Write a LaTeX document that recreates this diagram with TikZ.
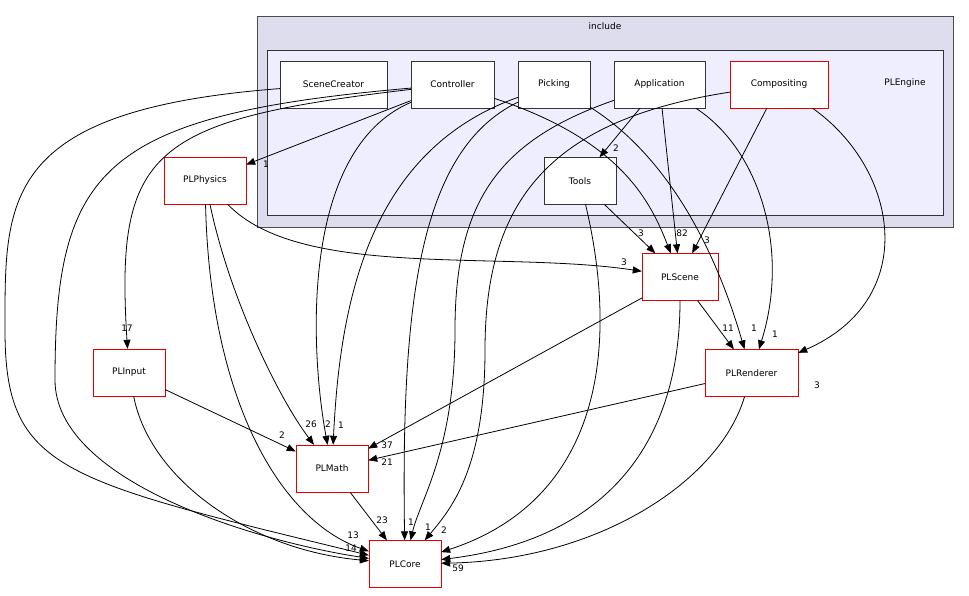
\documentclass[tikz,border=0pt]{standalone}
\usepackage{fontspec}
\setmainfont{DejaVu Sans}
\usetikzlibrary{positioning, arrows.meta}
\definecolor{clout}{HTML}{DDDDEE}
\definecolor{clin}{HTML}{EEEEFF}
\tikzset{
  dir/.style={draw=black!80, fill=white, minimum height=47pt, inner sep=0pt, font=\fontsize{9}{10}\selectfont},
  red/.style={dir, draw=red!90!black},
  dep/.style={-{Triangle[length=9pt,width=7pt]}, draw=black, thick},
  num/.style={font=\fontsize{9}{10}\selectfont, inner sep=0pt}
}
\begin{document}
\begin{tikzpicture}[x=1pt,y=-1pt]
  \useasboundingbox (0,0) rectangle (969,595);
  % clusters
  \draw[fill=clout, draw=black!70, thick] (257,16) rectangle (953,227);
  \node[num] (inc) at (605,26) {include};
  \draw[fill=clin, draw=black!80, thick] (267,50) rectangle (943,215);
  \node[num] (eng) at (905,83) {PLEngine};

  % directories
  \node[dir, minimum width=107pt] (scene) at (333.5,84.5) {SceneCreator};
  \node[dir, minimum width=83pt]  (ctrl)  at (452.5,84.5) {Controller};
  \node[dir, minimum width=72pt]  (pick)  at (554,84.5)   {Picking};
  \node[dir, minimum width=91pt]  (app)   at (659.5,84.5) {Application};
  \node[red, minimum width=98pt]  (comp)  at (779,84.5)   {Compositing};
  \node[dir, minimum width=72pt]  (tools) at (580,181)    {Tools};
  \node[red, minimum width=82pt]  (phys)  at (205,180.5)  {PLPhysics};
  \node[red, minimum width=76pt]  (plscene) at (680,277)  {PLScene};
  \node[red, minimum width=72pt]  (input) at (129,372.5)  {PLInput};
  \node[red, minimum width=93pt]  (rend)  at (751.5,373)  {PLRenderer};
  \node[red, minimum width=72pt]  (math)  at (332,468.5)  {PLMath};
  \node[red, minimum width=72pt]  (core)  at (405,564)    {PLCore};

  % dependencies
  \draw[dep] (scene) .. controls (0,110) and (5,200) .. (5,330) .. controls (5,470) and (60,480) .. (core);
  \draw[dep] (ctrl) .. controls (100,115) and (55,170) .. (55,380) .. controls (55,480) and (250,540) .. (core);
  \draw[dep] (ctrl) .. controls (150,120) and (115,150) .. (input);
  \draw[dep] (ctrl) -- (phys);
  \draw[dep] (ctrl) .. controls (300,150) and (310,350) .. (math);
  \draw[dep] (ctrl) .. controls (620,140) and (650,200) .. (plscene);
  \draw[dep] (pick) .. controls (370,150) and (340,300) .. (math);
  \draw[dep] (pick) .. controls (420,150) and (401,300) .. (core);
  \draw[dep] (pick) .. controls (690,170) and (730,300) .. (rend);
  \draw[dep] (app) -- (tools);
  \draw[dep] (app) -- (plscene);
  \draw[dep] (app) .. controls (500,140) and (455,200) .. (455,330) .. controls (455,450) and (420,500) .. (core);
  \draw[dep] (app) .. controls (760,150) and (790,250) .. (rend);
  \draw[dep] (comp) -- (plscene);
  \draw[dep] (comp) .. controls (550,120) and (485,200) .. (485,350) .. controls (485,470) and (450,510) .. (core);
  \draw[dep] (comp) .. controls (900,170) and (920,300) .. (rend);
  \draw[dep] (tools) -- (plscene);
  \draw[dep] (tools) .. controls (620,350) and (600,500) .. (core);
  \draw[dep] (phys) .. controls (300,280) and (500,250) .. (plscene);
  \draw[dep] (phys) .. controls (230,300) and (280,400) .. (math);
  \draw[dep] (phys) .. controls (210,400) and (280,520) .. (core);
  \draw[dep] (plscene) -- (math);
  \draw[dep] (plscene) -- (rend);
  \draw[dep] (plscene) .. controls (680,450) and (600,540) .. (core);
  \draw[dep] (input) -- (math);
  \draw[dep] (input) .. controls (150,480) and (250,550) .. (core);
  \draw[dep] (rend) -- (math);
  \draw[dep] (rend) .. controls (720,480) and (600,560) .. (core);
  \draw[dep] (math) -- (core);

  % counts
  \node[num] (n1) at (127,328) {17};
  \node[num] (n2) at (266,164) {1};
  \node[num] (n3) at (311,424) {26};
  \node[num] (n4) at (328,424) {2};
  \node[num] (n5) at (341,425) {1};
  \node[num] (n6) at (282,435) {2};
  \node[num] (n7) at (641,233) {3};
  \node[num] (n8) at (682,233) {82};
  \node[num] (n9) at (707,240) {3};
  \node[num] (n10) at (624,262) {3};
  \node[num] (n11) at (728,328) {11};
  \node[num] (n12) at (754,328) {1};
  \node[num] (n13) at (775,334) {1};
  \node[num] (n14) at (817,385) {3};
  \node[num] (n15) at (616,148) {2};
  \node[num] (n16) at (387,445) {37};
  \node[num] (n17) at (387,462) {21};
  \node[num] (n18) at (382,520) {23};
  \node[num] (n19) at (411,522) {1};
  \node[num] (n20) at (428,527) {1};
  \node[num] (n21) at (444,530) {2};
  \node[num] (n22) at (353,535) {13};
  \node[num] (n23) at (351,548) {14};
  \node[num] (n24) at (458,568) {59};
\end{tikzpicture}
\end{document}
